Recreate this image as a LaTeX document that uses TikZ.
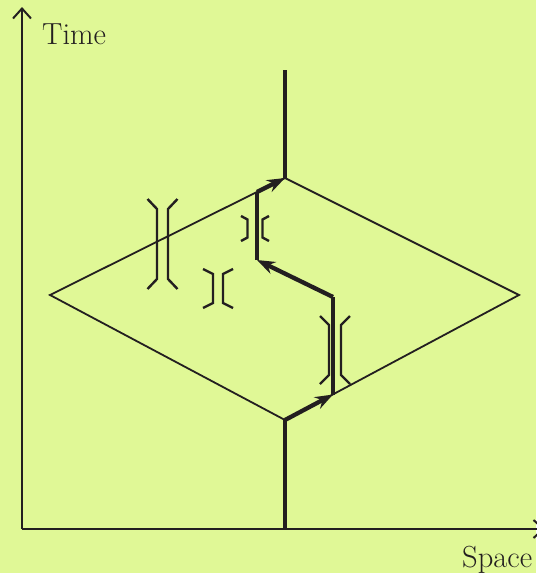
\documentclass[tikz,border=0pt]{standalone}
\usetikzlibrary{arrows.meta}
\definecolor{bg}{RGB}{224,248,150}
\definecolor{ink}{RGB}{35,31,32}
\newcommand\mybrk[6]{%
  \draw[brk] ({#1-#4},{#2-#6}) -- ({#1-#3},{#2-#5}) -- ({#1-#3},{#2+#5}) -- ({#1-#4},{#2+#6});
  \draw[brk] ({#1+#4},{#2-#6}) -- ({#1+#3},{#2-#5}) -- ({#1+#3},{#2+#5}) -- ({#1+#4},{#2+#6});
}
\begin{document}
\begin{tikzpicture}[x=1pt,y=-1pt,
  axis/.style={draw=ink,line width=2pt,-{Straight Barb[length=10pt,width=18pt,line width=2pt]}},
  thin/.style={draw=ink,line width=1.8pt,line join=miter},
  world/.style={draw=ink,line width=4.3pt},
  warrow/.style={world,-{Stealth[length=18pt,width=13pt,inset=6pt]}},
  brk/.style={draw=ink,line width=2.4pt,line join=miter},
  lbl/.style={text=ink,inner sep=0pt,font=\fontsize{30.5}{36}\selectfont}]
\fill[bg] (0,0) rectangle (536,573);
\useasboundingbox (0,0) rectangle (536,573);
% axes
\coordinate (O) at (22,529);
\coordinate (Ty) at (22,7);
\coordinate (Sx) at (545,529);
\draw[axis] (O) -- (Ty);
\draw[axis] (O) -- (Sx);
\node[lbl,anchor=base west] (time) at (42,44) {Time};
\node[lbl,anchor=base west] (space) at (462,567) {Space};
% diamond
\coordinate (L) at (50,295);
\coordinate (T) at (285,178);
\coordinate (R) at (519,295);
\coordinate (B) at (285,420);
\draw[thin] (L) -- (T) -- (R) -- (B) -- cycle;
% world line
\coordinate (w0) at (285,529);
\coordinate (w1) at (333,394.5);
\coordinate (w2) at (333,297);
\coordinate (w3) at (257,260);
\coordinate (w4) at (257,192);
\coordinate (w5) at (285,70);
\draw[world] (w0) -- (B);
\draw[warrow] (B) -- (w1);
\draw[world] (w1) -- (w2);
\draw[warrow] (w2) -- (w3);
\draw[world] (w3) -- (w4);
\draw[warrow] (w4) -- (T);
\draw[world] (T) -- (w5);
% brackets
\mybrk{162.5}{244}{5.5}{15}{35}{45}
\mybrk{218}{288.5}{5}{15}{14.5}{19.5}
\mybrk{255}{228.5}{7.5}{14}{9}{12.5}
\mybrk{335}{350}{6}{15}{25}{34}
\end{tikzpicture}
\end{document}
